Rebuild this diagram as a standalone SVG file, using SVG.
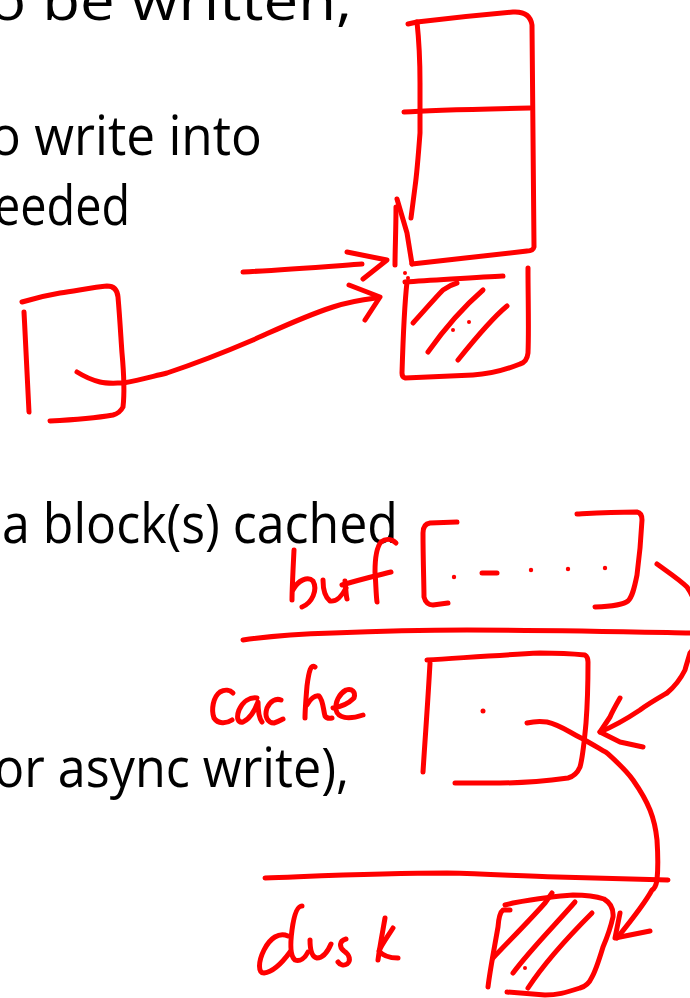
<svg xmlns="http://www.w3.org/2000/svg" width="690" height="998" viewBox="0 0 690 998">
  <style>
    .txt { font-family: "Open Sans", "Liberation Sans", sans-serif; font-size: 54px; fill: #000; }
    .ink { fill: none; stroke: #ff0000; stroke-width: 5; stroke-linecap: round; stroke-linejoin: round; }
    .dot { fill: #ff0000; }
  </style>
  <rect width="690" height="998" fill="#fff"/>

  <!-- slide text -->
  <g id="slide-text">
    <text class="txt" x="-11" y="20" textLength="363" lengthAdjust="spacingAndGlyphs">o be written,</text>
    <text class="txt" x="-10" y="155" textLength="272" lengthAdjust="spacingAndGlyphs">o write into</text>
    <text class="txt" x="-6" y="225" textLength="136" lengthAdjust="spacingAndGlyphs">eeded</text>
    <text class="txt" x="2" y="543" textLength="396" lengthAdjust="spacingAndGlyphs">a block(s) cached</text>
    <text class="txt" x="-6" y="787" textLength="355" lengthAdjust="spacingAndGlyphs">or async write),</text>
  </g>

  <!-- file blocks stacked -->
  <g id="block-stack">
    <path class="ink" d="M408,24 L417,22 C450,18 490,14 513,12 Q530,11 532,25 L534,247 Q533,251 527,251 L412,264"/>
    <path class="ink" d="M417,22 C420,50 420,80 420,83 L420,133 C418,160 416,180 415,187 L411,218"/>
    <path class="ink" d="M404,112 C430,110 480,109 530,108"/>
    <path class="ink" d="M412,264 L407,233 L397,199"/>
    <path class="ink" d="M396,207 C396,230 395,250 395,265"/>
  </g>

  <!-- newly added block (hatched) -->
  <g id="new-block">
    <path class="ink" d="M405,282 C440,280 480,277 503,276"/>
    <path class="ink" d="M528,268 C528,300 529,330 528,353 Q527,362 520,364 C505,370 490,374 473,375 L405,378 Q402,377 402,373 C403,340 405,300 407,282"/>
    <path class="ink" d="M413,323 C425,310 435,298 443,290 Q450,285 457,283"/>
    <path class="ink" d="M428,352 C440,335 460,310 483,290"/>
    <path class="ink" d="M458,360 C470,345 490,320 507,306"/>
    <circle class="dot" cx="453" cy="330" r="2"/>
    <circle class="dot" cx="469" cy="322" r="2"/>
    <circle class="dot" cx="405" cy="273" r="2"/>
    <circle class="dot" cx="408" cy="278" r="2"/>
  </g>

  <!-- user buffer -->
  <g id="user-buffer">
    <path class="ink" d="M22,302 C35,298 48,295 60,293 C80,290 95,287 107,286 Q117,286 118,297 C120,320 121,340 122,353 C124,375 125,390 123,407 Q120,413 113,415 C90,419 70,420 50,421"/>
    <path class="ink" d="M24,312 C26,350 28,390 29,412"/>
  </g>

  <!-- buf / cache / disk layers -->
  <g id="buf">
    <path class="ink" d="M294,550 C293,570 292,590 292,600"/>
    <path class="ink" d="M293,590 C298,580 308,576 313,581 C318,590 312,603 302,607"/>
    <path class="ink" d="M323,580 C323,590 325,597 330,601 C336,602 342,596 346,588"/>
    <path class="ink" d="M345,581 C346,590 346,596 347,599"/>
    <path class="ink" d="M396,543 C392,539 386,538 381,542 C376,548 375,560 375,572 C376,585 376,595 377,602"/>
    <path class="ink" d="M342,585 C358,580 375,576 391,572"/>
    <path class="ink" d="M457,522 L430,523 Q423,524 423,533 C423,560 424,585 424,597 Q426,605 433,605 L448,603"/>
    <circle class="dot" cx="454" cy="577" r="2.2"/>
    <path class="ink" d="M482,573 L497,573"/>
    <circle class="dot" cx="531" cy="570" r="2.2"/>
    <circle class="dot" cx="568" cy="569" r="2.2"/>
    <circle class="dot" cx="605" cy="568" r="2.2"/>
    <path class="ink" d="M577,514 C595,513 610,512 637,512 Q642,513 642,520 C641,540 639,560 637,575 C634,590 632,597 628,601 Q622,606 595,607"/>
  </g>

  <g id="layer-lines">
    <path class="ink" d="M243,640 C270,636 300,634 333,633 C380,631 430,630 467,630 C560,630 640,632 690,633"/>
    <path class="ink" d="M265,878 C320,876 380,873 447,873 C490,874 520,876 557,877 C600,878 640,879 668,880"/>
  </g>

  <g id="cache">
    <path class="ink" d="M233,693 C230,690 225,689 220,692 C213,697 211,710 214,718 C218,724 226,724 232,720"/>
    <path class="ink" d="M257,698 C250,697 243,701 239,710 C236,718 238,723 243,722 C250,719 255,710 258,702 C258,712 259,718 262,722"/>
    <path class="ink" d="M281,700 C276,698 270,701 267,708 C264,717 268,723 274,723 C278,722 281,720 283,719"/>
    <path class="ink" d="M315,667 C311,664 309,670 307,686 C306,698 305,710 305,718"/>
    <path class="ink" d="M307,705 C310,699 315,695 319,696 C323,700 323,708 325,716 Q327,719 332,718"/>
    <path class="ink" d="M333,708 C340,707 348,704 354,698 C356,692 352,688 346,690 C339,694 335,702 336,710 C338,718 348,720 363,715"/>
    <path class="ink" d="M427,660 C460,658 500,655 540,653 C560,653 575,654 585,655 Q588,657 588,662 C588,690 587,710 586,723 C584,745 582,760 580,767 Q576,776 568,778 C545,781 520,783 500,783 L455,783"/>
    <path class="ink" d="M430,663 C428,700 425,740 423,772"/>
    <circle class="dot" cx="483" cy="711" r="2.5"/>
  </g>

  <g id="disk">
    <path class="ink" d="M288,936 C279,932 270,938 264,950 C258,962 258,973 264,973 C272,972 282,963 290,952"/>
    <path class="ink" d="M302,906 C297,906 294,915 292,930 C290,945 290,956 295,960 C300,962 305,958 308,952"/>
    <path class="ink" d="M310,940 C310,950 312,957 317,958 C323,958 328,951 331,944"/>
    <path class="ink" d="M346,939 C339,941 339,947 344,951 C350,955 351,961 347,964 C344,966 340,965 338,962"/>
    <path class="ink" d="M385,918 C383,930 380,945 378,960"/>
    <path class="ink" d="M393,928 C388,936 382,944 379,951 C383,956 390,958 398,958"/>
    <path class="ink" d="M505,905 L513,903 C535,899 555,896 573,895 C585,895 595,896 604,899 Q614,905 613,917 C610,930 606,940 603,947 C599,960 596,970 592,977 Q588,986 580,988 C565,993 557,995 545,995 C530,994 518,993 507,992"/>
    <path class="ink" d="M510,910 L503,910 Q499,913 498,927 C494,950 490,970 488,987"/>
    <path class="ink" d="M552,893 L545,903 C530,920 510,940 493,958"/>
    <path class="ink" d="M575,902 C555,925 530,950 513,973"/>
    <path class="ink" d="M592,913 C570,935 545,962 528,988"/>
    <circle class="dot" cx="525" cy="968" r="2"/>
  </g>

  <!-- connectors -->
  <g id="connectors">
    <!-- arrow into the stack -->
    <path class="ink" d="M243,272 C280,270 320,267 362,264"/>
    <path class="ink" d="M347,252 L387,260 L363,279"/>
    <!-- user buffer to new block -->
    <path class="ink" d="M77,372 C85,377 92,380 100,382 C108,384 116,383 123,383 C140,380 150,377 167,373 C200,362 225,352 253,340 C280,328 305,316 333,307 C348,302 360,300 376,298"/>
    <path class="ink" d="M349,285 L380,297 L365,320"/>
    <!-- buf to cache -->
    <path class="ink" d="M657,564 C668,572 680,580 687,587 C700,605 702,640 690,653 C688,660 686,666 685,670 C680,680 673,688 667,693 C655,700 648,704 640,710 C625,720 612,727 600,732"/>
    <path class="ink" d="M620,698 C616,705 612,712 610,717 L600,732 L620,742 L643,747"/>
    <!-- cache to disk -->
    <path class="ink" d="M527,723 C535,721 541,721 547,722 C556,724 563,728 570,732 C575,735 579,737 583,739 C592,744 600,749 607,753 C617,762 626,770 633,780 C640,790 646,800 650,810 C654,820 656,830 657,840 C658,855 658,870 657,880 C656,886 654,889 652,890 C645,903 630,922 617,938"/>
    <path class="ink" d="M620,913 L615,938 L650,931"/>
  </g>
</svg>
